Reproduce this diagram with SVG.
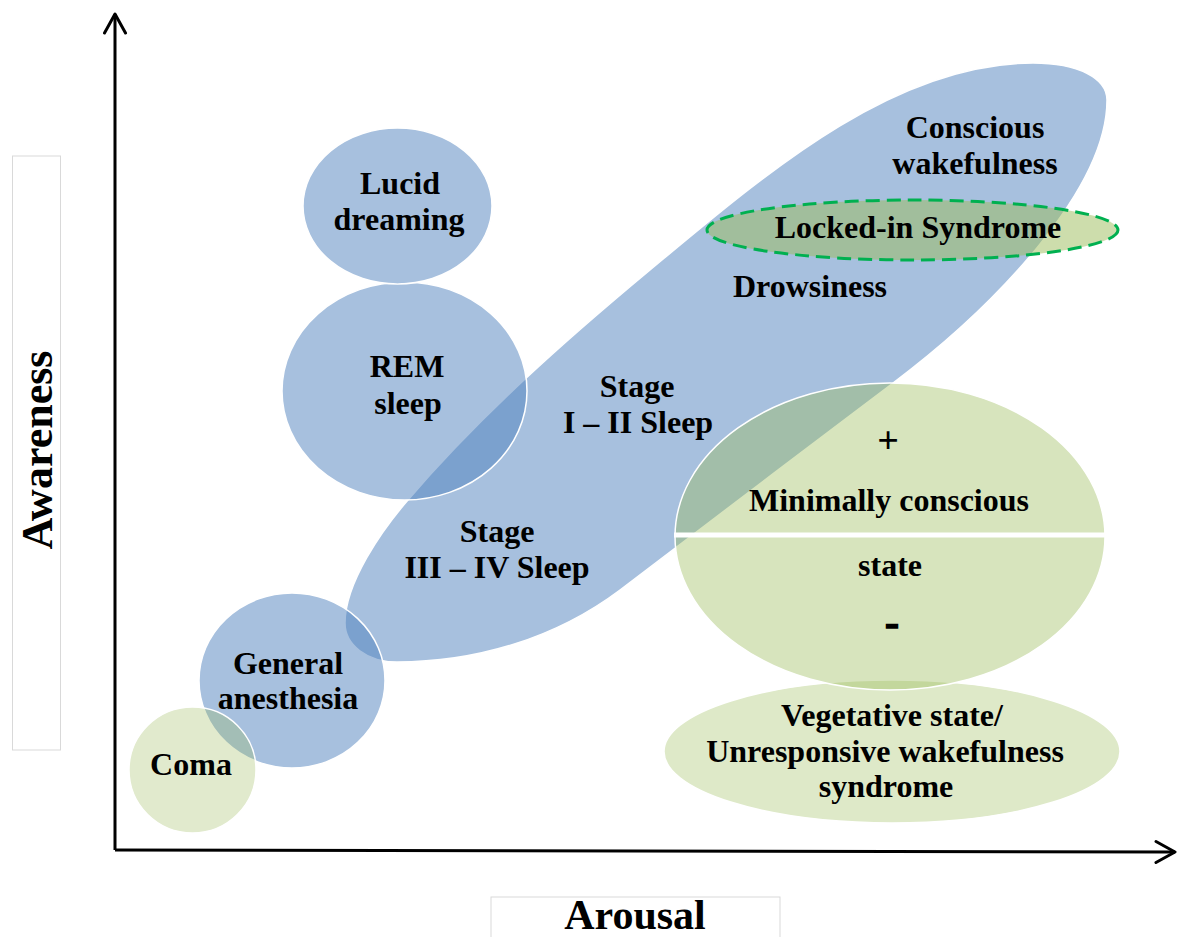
<svg xmlns="http://www.w3.org/2000/svg" width="1177" height="937" viewBox="0 0 1177 937">
  <defs>
    <style>
      .lbl { font-family: "Liberation Serif", "Times New Roman", serif; font-weight: bold; font-size: 32px; text-anchor: middle; fill: #000; }
      .axl { font-family: "Liberation Serif", "Times New Roman", serif; font-weight: bold; font-size: 44px; text-anchor: middle; fill: #000; }
      .blue { fill: #4F81BD; fill-opacity: 0.5; stroke: #fff; stroke-width: 1.5; }
      .green { fill: #9BBB59; stroke: #fff; stroke-width: 1.5; }
      .box { fill: none; stroke: #D9D9D9; stroke-width: 1; }
      .axis { fill: none; stroke: #000; stroke-width: 3; }
    </style>
    <marker id="arr" viewBox="-2 -2 24 26" refX="19" refY="10.5" markerWidth="24" markerHeight="26" markerUnits="userSpaceOnUse" orient="auto">
      <path d="M0,0 L19,10.5 L0,21" fill="none" stroke="#000" stroke-width="3" stroke-linecap="round" stroke-linejoin="round"/>
    </marker>
  </defs>

  <rect width="1177" height="937" fill="#fff"/>

  <!-- axis label boxes -->
  <rect class="box" x="12.5" y="156" width="48" height="594"/>
  <rect class="box" x="491" y="897" width="289" height="45"/>

  <g id="awake-sleep-band">
    <path class="blue" d="M345,623 C345,583 382,530 408,500 C479.5,416.4 565.3,340.4 650,270 C765.5,174 893,63 1033,63 C1078,63 1107,78 1107,100 C1107,190 993,308 893,383 C813,443 680,545 620,590 C556,638 477,662 397,662 C367,662 345,645 345,623 Z"/>
    <text class="lbl" x="975" y="138">Conscious</text>
    <text class="lbl" x="975" y="174">wakefulness</text>
    <text class="lbl" x="810" y="297">Drowsiness</text>
    <text class="lbl" x="637" y="397">Stage</text>
    <text class="lbl" x="638" y="433">I – II Sleep</text>
    <text class="lbl" x="497" y="542">Stage</text>
    <text class="lbl" x="497" y="578">III – IV Sleep</text>
  </g>

  <g id="rem-sleep">
    <ellipse class="blue" cx="404.5" cy="391" rx="122.5" ry="109"/>
    <text class="lbl" x="407" y="377">REM</text>
    <text class="lbl" x="408" y="414">sleep</text>
  </g>

  <g id="lucid-dreaming">
    <ellipse class="blue" cx="397.5" cy="206" rx="94.5" ry="78"/>
    <text class="lbl" x="400" y="194">Lucid</text>
    <text class="lbl" x="399" y="230">dreaming</text>
  </g>

  <g id="general-anesthesia">
    <ellipse class="blue" cx="292" cy="680.5" rx="93" ry="87.5"/>
    <text class="lbl" x="288" y="674">General</text>
    <text class="lbl" x="288" y="709">anesthesia</text>
  </g>

  <g id="coma">
    <ellipse class="green" fill-opacity="0.3" cx="192.5" cy="770" rx="63.5" ry="63"/>
    <text class="lbl" x="191" y="775">Coma</text>
  </g>

  <g id="vegetative-state">
    <ellipse class="green" fill-opacity="0.33" cx="892" cy="751.5" rx="228" ry="71.5"/>
    <text class="lbl" x="892" y="726">Vegetative state/</text>
    <text class="lbl" x="885" y="762">Unresponsive wakefulness</text>
    <text class="lbl" x="886" y="797">syndrome</text>
  </g>

  <g id="minimally-conscious-state">
    <ellipse class="green" fill-opacity="0.4" cx="890" cy="536.5" rx="215" ry="153.5"/>
    <line x1="674" y1="535" x2="1106" y2="535" stroke="#fff" stroke-width="5"/>
    <text class="lbl" x="888" y="453" style="font-size:38px">+</text>
    <text class="lbl" x="889" y="511">Minimally conscious</text>
    <text class="lbl" x="890" y="576">state</text>
    <text class="lbl" x="892" y="636" style="font-size:42px" stroke="#000" stroke-width="1.5">-</text>
  </g>

  <g id="locked-in-syndrome">
    <ellipse cx="912.5" cy="230" rx="205.5" ry="30" fill="#9BBB59" fill-opacity="0.5" stroke="#00B050" stroke-width="3" stroke-dasharray="14 7"/>
    <text class="lbl" x="918" y="238">Locked-in Syndrome</text>
  </g>

  <g id="connectors">
    <line class="axis" x1="115" y1="850" x2="115" y2="14" marker-end="url(#arr)"/>
    <line class="axis" x1="115" y1="850" x2="1175" y2="852" marker-end="url(#arr)"/>
  </g>

  <g id="axis-labels">
    <text class="axl" transform="translate(52,450) rotate(-90)">Awareness</text>
    <text class="axl" x="635" y="929" style="font-size:42px">Arousal</text>
  </g>
</svg>
